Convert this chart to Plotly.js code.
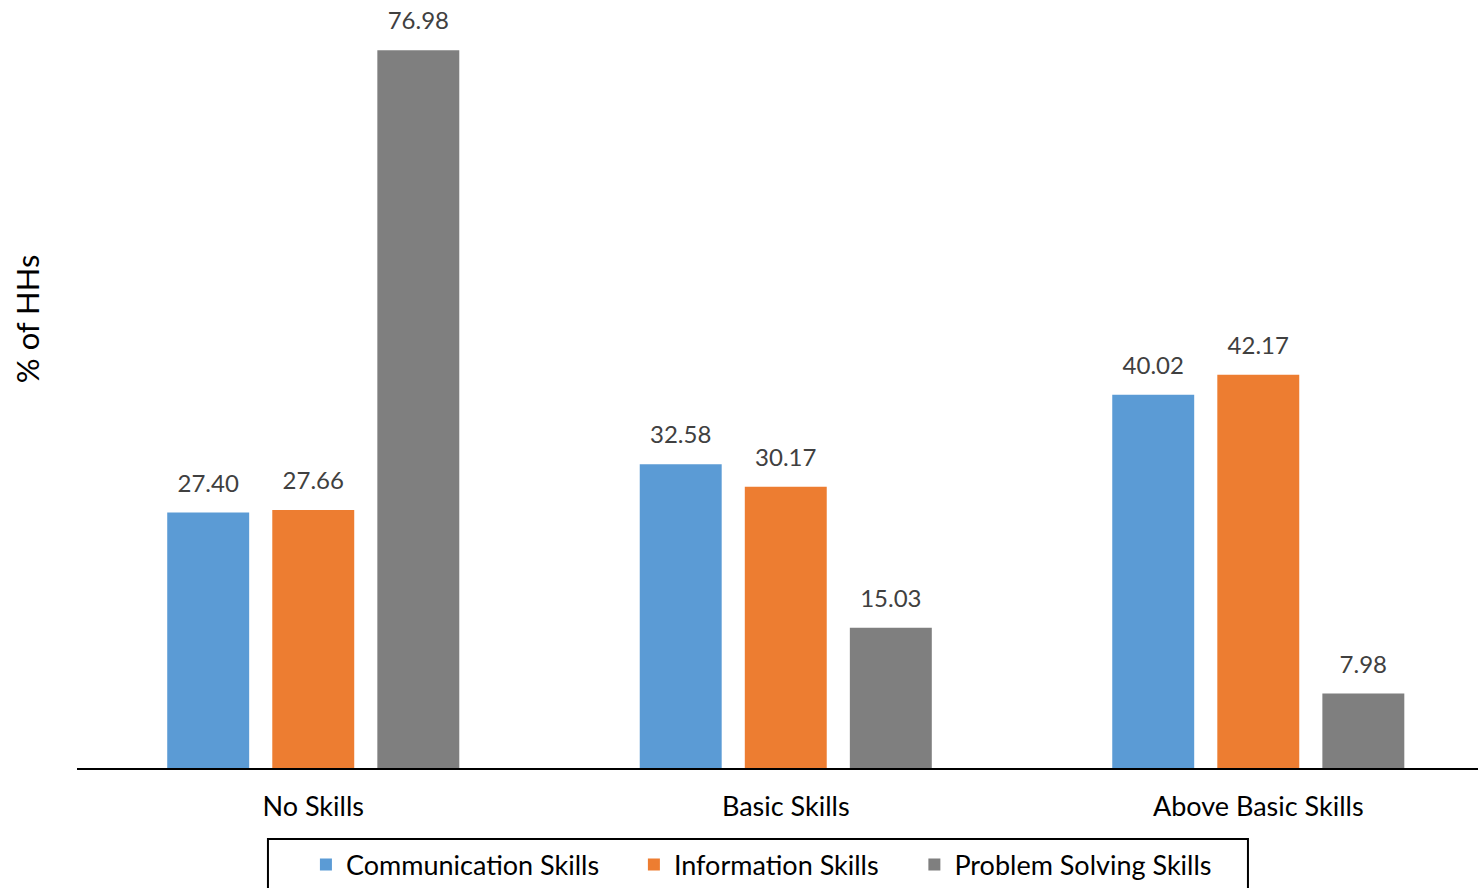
<!DOCTYPE html>
<html>
<head>
<meta charset="utf-8">
<script src="https://cdn.plot.ly/plotly-3.0.1.min.js"></script>
<style>
  html, body { margin: 0; padding: 0; background: #fff; }
  #chart { width: 1478px; height: 888px; }
</style>
</head>
<body>
<div id="chart"></div>
<script>
// Skill levels of households, by skill domain
const categories = ['No Skills', 'Basic Skills', 'Above Basic Skills'];
const seriesNames = ['Communication Skills', 'Information Skills', 'Problem Solving Skills'];
const communication = [27.40, 32.58, 40.02];
const information = [27.66, 30.17, 42.17];
const problemSolving = [76.98, 15.03, 7.98];
const seriesColors = ['#5B9BD5', '#ED7D31', '#7F7F7F'];

const FONT = 'Lato, "Open Sans", sans-serif';
const seriesValues = [communication, information, problemSolving];
const legendIds = ['legend', 'legend2', 'legend3'];

// one bar trace per series, each listed in its own legend slot
const barTraces = seriesValues.map((vals, i) => ({
  type: 'bar',
  name: seriesNames[i],
  x: categories,
  y: vals,
  offsetgroup: 'g' + i,
  legend: legendIds[i],
  marker: { color: seriesColors[i], line: { width: 0 } },
  hoverinfo: 'x+y+name'
}));

// value labels: invisible markers at each bar top, text sits above them
const labelTraces = seriesValues.map((vals, i) => ({
  type: 'scatter',
  mode: 'markers+text',
  x: categories,
  y: vals,
  offsetgroup: 'g' + i,
  showlegend: false,
  cliponaxis: false,
  marker: { size: 22, opacity: 0, color: seriesColors[i] },
  text: vals.map(v => v.toFixed(2)),
  textposition: 'top center',
  textfont: { family: FONT, size: 24, color: '#404040' },
  hoverinfo: 'skip'
}));

const legendBase = {
  orientation: 'h',
  xanchor: 'left',
  y: -0.13, yanchor: 'middle',
  borderwidth: 0,
  bgcolor: 'rgba(0,0,0,0)',
  font: { family: FONT, size: 27, color: '#000000' }
};

const layout = {
  width: 1478,
  height: 888,
  margin: { l: 77, r: 0, t: 22, b: 120, autoexpand: false },
  paper_bgcolor: '#ffffff',
  plot_bgcolor: '#ffffff',
  barmode: 'group',
  bargap: 0.333,
  bargroupgap: 0.22,
  scattermode: 'group',
  scattergap: 0.333,
  font: { family: FONT, color: '#000000' },
  xaxis: {
    type: 'category',
    range: [-0.5, 2.465],
    showline: true,
    linecolor: '#000000',
    linewidth: 2,
    ticks: '',
    ticklabelstandoff: 14,
    showgrid: false,
    zeroline: false,
    tickfont: { family: FONT, size: 27, color: '#000000' },
    fixedrange: true
  },
  yaxis: {
    range: [0, 80],
    showticklabels: false,
    showgrid: false,
    zeroline: false,
    showline: false,
    ticks: '',
    fixedrange: true
  },
  legend: Object.assign({}, legendBase, { x: 0.1634 }),
  legend2: Object.assign({}, legendBase, { x: 0.3975 }),
  legend3: Object.assign({}, legendBase, { x: 0.5977 }),
  shapes: [{
    type: 'rect',
    xref: 'paper', yref: 'paper',
    x0: 0.1363, x1: 0.8358,
    y0: -0.0952, y1: -0.2,
    line: { color: '#000000', width: 2 },
    fillcolor: 'rgba(0,0,0,0)',
    layer: 'above'
  }],
  annotations: [{
    text: '% of HHs',
    xref: 'paper', yref: 'paper',
    x: -0.0357, y: 0.603,
    xanchor: 'center', yanchor: 'middle',
    textangle: -90,
    showarrow: false,
    font: { family: FONT, size: 31, color: '#000000' }
  }]
};

Plotly.newPlot('chart', barTraces.concat(labelTraces), layout, { displayModeBar: false, staticPlot: true });
</script>
</body>
</html>
